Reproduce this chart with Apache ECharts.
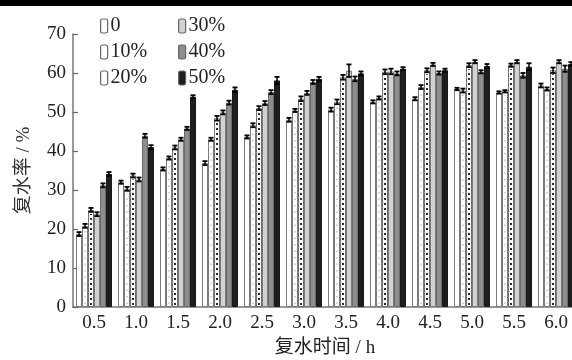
<!DOCTYPE html>
<html>
<head>
<meta charset="utf-8">
<script src="https://cdn.jsdelivr.net/npm/echarts@6/dist/echarts.min.js"></script>
<style>
  html, body { margin: 0; padding: 0; background: #fff; }
  #chart { width: 572px; height: 360px; }
</style>
</head>
<body>
<div id="chart"></div>
<script>
// Rehydration time (h) on the x axis
const categories = ['0.5', '1.0', '1.5', '2.0', '2.5', '3.0', '3.5', '4.0', '4.5', '5.0', '5.5', '6.0'];
const seriesNames = ['0', '10%', '20%', '30%', '40%', '50%'];

// Rehydration rate (%) per treatment
const rate0  = [18.7, 32.0, 35.4, 36.9, 43.6, 48.0, 50.6, 52.6, 53.4, 55.9, 55.0, 56.8];
const rate10 = [20.8, 30.3, 38.2, 43.0, 46.6, 50.4, 52.6, 53.6, 56.4, 55.5, 55.3, 55.9];
const rate20 = [24.9, 33.7, 40.9, 48.4, 51.0, 53.4, 58.9, 60.3, 60.7, 62.0, 62.0, 60.7];
const rate30 = [23.8, 32.7, 43.0, 49.9, 52.3, 54.9, 60.6, 60.4, 62.2, 62.9, 62.9, 62.9];
const rate40 = [31.2, 43.9, 45.8, 52.4, 55.1, 57.7, 58.5, 59.9, 60.0, 60.3, 59.4, 61.1];
const rate50 = [34.1, 41.0, 53.9, 55.7, 58.1, 58.5, 59.9, 61.1, 60.7, 61.8, 61.6, 62.3];

// Standard errors
const err0  = [0.5, 0.4, 0.4, 0.5, 0.4, 0.5, 0.5, 0.4, 0.4, 0.3, 0.3, 0.5];
const err10 = [0.5, 0.5, 0.4, 0.4, 0.5, 0.4, 0.6, 0.4, 0.5, 0.5, 0.3, 0.4];
const err20 = [0.5, 0.5, 0.5, 0.6, 0.5, 0.6, 0.6, 0.6, 0.5, 0.5, 0.4, 0.7];
const err30 = [0.5, 0.5, 0.4, 0.5, 0.5, 0.5, 1.6, 0.7, 0.4, 0.4, 0.4, 0.4];
const err40 = [0.5, 0.5, 0.4, 0.5, 0.5, 0.5, 0.6, 0.5, 0.4, 0.4, 0.6, 0.8];
const err50 = [0.5, 0.5, 0.4, 0.6, 0.9, 0.5, 0.5, 0.4, 0.4, 0.5, 0.9, 0.5];

const yTicks = [0, 10, 20, 30, 40, 50, 60, 70];

const rates = [rate0, rate10, rate20, rate30, rate40, rate50];
const errs = [err0, err10, err20, err30, err40, err50];
const fills = ['#ffffff', '#ffffff', '#ffffff', '#d2d2d2', '#8e8e8e', '#1e1e1e'];
const borders = ['#7a7a7a', '#7a7a7a', '#6a6a6a', '#7a7a7a', '#6a6a6a', '#1a1a1a'];
const BAR_W = 6;

const serif = '"Liberation Serif", "Times New Roman", "Noto Sans CJK SC", serif';

const barSeries = seriesNames.map((name, k) => ({
  name: name,
  type: 'bar',
  data: rates[k],
  barWidth: BAR_W,
  barGap: '0%',
  itemStyle: { color: fills[k], borderColor: borders[k], borderWidth: 1 },
  emphasis: { disabled: true },
  z: 2
}));

// One entry per bar: [category index, series index, value, error]
const overlayData = [];
rates.forEach((arr, k) => {
  arr.forEach((v, i) => overlayData.push([i, k, v, errs[k][i]]));
});

// Fill patterns for the 10 % / 20 % bars and the error bars on every bar
function renderOverlay(params, api) {
  const ci = api.value(0), si = api.value(1), v = api.value(2), e = api.value(3);
  const base = api.coord([ci, 0]);
  const top = api.coord([ci, v]);
  const hi = api.coord([ci, v + e]);
  const lo = api.coord([ci, v - e]);
  const x = base[0] + (si - 2.5) * BAR_W;
  const children = [];
  if (si === 1) {
    children.push({
      type: 'line',
      shape: { x1: x, y1: base[1] - 3, x2: x, y2: top[1] + 4 },
      style: { stroke: '#b4b4b4', lineWidth: 1.2, lineDash: [1.5, 5] }
    });
  } else if (si === 2) {
    children.push({
      type: 'line',
      shape: { x1: x, y1: base[1] - 2, x2: x, y2: top[1] + 4 },
      style: { stroke: '#2a2a2a', lineWidth: 2, lineDash: [2, 3] }
    });
    children.push({
      type: 'line',
      shape: { x1: x - 2, y1: base[1] - 4, x2: x - 2, y2: top[1] + 4 },
      style: { stroke: '#bdbdbd', lineWidth: 1, lineDash: [1, 4] }
    });
  }
  const hw = BAR_W / 2 - 0.5;
  children.push(
    { type: 'line', shape: { x1: x, y1: lo[1], x2: x, y2: hi[1] }, style: { stroke: '#000', lineWidth: 1.5 } },
    { type: 'line', shape: { x1: x - hw, y1: hi[1], x2: x + hw, y2: hi[1] }, style: { stroke: '#000', lineWidth: 1.8 } },
    { type: 'line', shape: { x1: x - hw, y1: lo[1], x2: x + hw, y2: lo[1] }, style: { stroke: '#000', lineWidth: 1.8 } }
  );
  return { type: 'group', children: children };
}

const legendBase = {
  orient: 'vertical',
  icon: 'roundRect',
  itemWidth: 7,
  itemHeight: 14,
  itemGap: 6,
  padding: 0,
  selectedMode: false,
  textStyle: { fontFamily: serif, fontSize: 20, color: '#222', lineHeight: 20, padding: [0, 0, 0, -2] },
  itemStyle: { borderWidth: 1.2, borderColor: '#666' }
};

const chart = echarts.init(document.getElementById('chart'), null, { renderer: 'canvas' });
chart.setOption({
  animation: false,
  backgroundColor: '#fff',
  grid: { left: 73, top: 34, width: 504, height: 273, containLabel: false, outerBoundsMode: 'none' },
  legend: [
    Object.assign({}, legendBase, { data: seriesNames.slice(0, 3), left: 100, top: 16 }),
    Object.assign({}, legendBase, { data: seriesNames.slice(3), left: 178, top: 16 })
  ],
  xAxis: {
    type: 'category',
    data: categories,
    name: '复水时间 / h',
    nameLocation: 'middle',
    nameGap: 32,
    nameTextStyle: { fontFamily: serif, fontSize: 19, color: '#222' },
    axisLine: { lineStyle: { color: '#777', width: 1.5 } },
    axisTick: { inside: true, length: 4, lineStyle: { color: '#555', width: 1.5 } },
    axisLabel: { fontFamily: serif, fontSize: 19, color: '#222', margin: 7 },
    splitLine: { show: false }
  },
  yAxis: {
    type: 'value',
    min: yTicks[0],
    max: yTicks[yTicks.length - 1],
    interval: yTicks[1] - yTicks[0],
    name: '复水率 / %',
    nameLocation: 'middle',
    nameGap: 39,
    nameRotate: 90,
    nameTextStyle: { fontFamily: serif, fontSize: 19, color: '#333' },
    axisLine: { show: true, lineStyle: { color: '#777', width: 1.5 } },
    axisTick: { show: true, inside: true, length: 5, lineStyle: { color: '#666', width: 1.2 } },
    axisLabel: { fontFamily: serif, fontSize: 19, color: '#222', margin: 7 },
    splitLine: { show: false }
  },
  series: barSeries.concat([{
    type: 'custom',
    data: overlayData,
    renderItem: renderOverlay,
    encode: { x: 0, y: 2 },
    silent: true,
    z: 5
  }]),
  graphic: [
    { type: 'rect', shape: { x: 0, y: 0, width: 572, height: 6 }, style: { fill: '#000' }, z: 100 }
  ]
});
</script>
</body>
</html>
